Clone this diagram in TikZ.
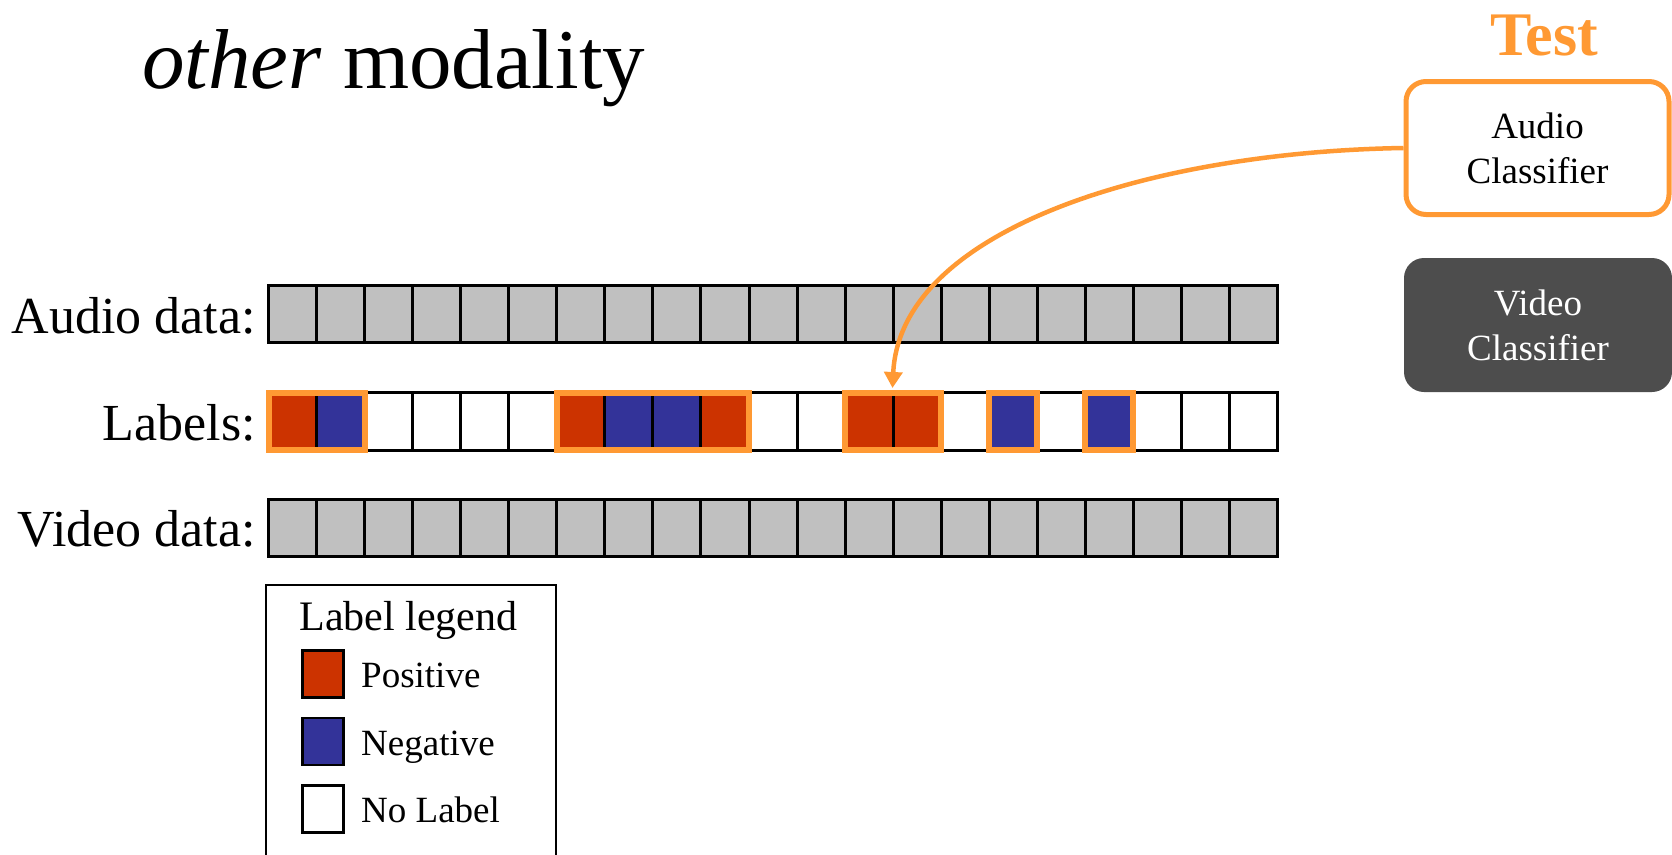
\documentclass[tikz,border=0pt]{standalone}
\usepackage{fontspec}
\setmainfont{Liberation Serif}
\usetikzlibrary{arrows.meta}
\definecolor{cgray}{HTML}{C0C0C0}
\definecolor{cred}{HTML}{CC3300}
\definecolor{cblue}{HTML}{333399}
\definecolor{corange}{HTML}{FF9933}
\definecolor{cdark}{HTML}{4D4D4D}
\tikzset{
  cell/.style={draw=black, line width=3pt, inner sep=0pt, outer sep=0pt, minimum width=48.05pt, minimum height=57.5pt, anchor=north west},
  rowlab/.style={anchor=base east, inner sep=0pt, font=\fontsize{52}{62}\selectfont},
  hl/.style={draw=corange, line width=6pt},
  clf/.style={rounded corners=20pt, minimum width=263pt, minimum height=133pt, align=center, inner sep=0pt, font=\fontsize{37}{45}\selectfont},
  legsq/.style={draw=black, line width=2.5pt, minimum width=41pt, minimum height=47pt, anchor=north west, inner sep=0pt, outer sep=0pt},
  legtxt/.style={anchor=base west, inner sep=0pt, font=\fontsize{37}{44}\selectfont},
  arr/.style={draw=corange, line width=4.5pt, -{Triangle[width=18pt,length=16pt]}}
}
\begin{document}
\begin{tikzpicture}[x=1pt,y=-1pt]
\useasboundingbox (0,0) rectangle (1672,854);
% title
\node[anchor=base west, inner sep=0pt, font=\fontsize{85}{100}\selectfont] (title) at (142,88) {\textit{other} modality};
% row labels
\node[rowlab] (ta) at (256,333.3) {Audio data:};
\node[rowlab] (tl) at (256,440.7) {Labels:};
\node[rowlab] (tv) at (256,546) {Video data:};
% audio and video rows
\foreach \i in {0,...,20} {
  \node[cell, fill=cgray] (a\i) at ({268.5+48.05*\i},285) {};
  \node[cell, fill=cgray] (v\i) at ({268.5+48.05*\i},499) {};
}
% label row
\foreach \c [count=\i from 0] in {cred,cblue,white,white,white,white,cred,cblue,cblue,cred,white,white,cred,cred,white,cblue,white,cblue,white,white,white} {
  \node[cell, fill=\c] (l\i) at ({268.5+48.05*\i},392.5) {};
}
% highlight boxes
\draw[hl] (l0.north west) rectangle (l1.south east);
\draw[hl] (l6.north west) rectangle (l9.south east);
\draw[hl] (l12.north west) rectangle (l13.south east);
\draw[hl] (l15.north west) rectangle (l15.south east);
\draw[hl] (l17.north west) rectangle (l17.south east);
% classifiers
\node[anchor=base, inner sep=0pt, text=corange, font=\bfseries\fontsize{62}{70}\selectfont] (test) at (1544,55) {Test};
\node[clf, draw=corange, line width=5pt, fill=white] (aud) at (1537.5,148) {Audio\\Classifier};
\node[clf, fill=cdark, text=white, minimum width=268pt, minimum height=134pt] (vid) at (1538,325) {Video\\Classifier};
% arrow
\coordinate (tip) at (892.5,388);
\draw[arr] (aud.west) .. controls (1150,152) and (900,230) .. (tip);
% legend
\node[draw=black, line width=2pt, minimum width=290pt, minimum height=296pt, anchor=north west, inner sep=0pt] (legend) at (264.5,584.3) {};
\node[anchor=base west, inner sep=0pt, font=\fontsize{42}{50}\selectfont] (legtitle) at (299.3,630.7) {Label legend};
\node[legsq, fill=cred] (sqp) at (302.3,650.7) {};
\node[legsq, fill=cblue] (sqn) at (302.3,718) {};
\node[legsq, fill=white] (sqw) at (302.3,785.7) {};
\node[legtxt] (tp) at (361,687.3) {Positive};
\node[legtxt] (tn) at (361,755) {Negative};
\node[legtxt] (tw) at (361,822.3) {No Label};
\end{tikzpicture}
\end{document}
